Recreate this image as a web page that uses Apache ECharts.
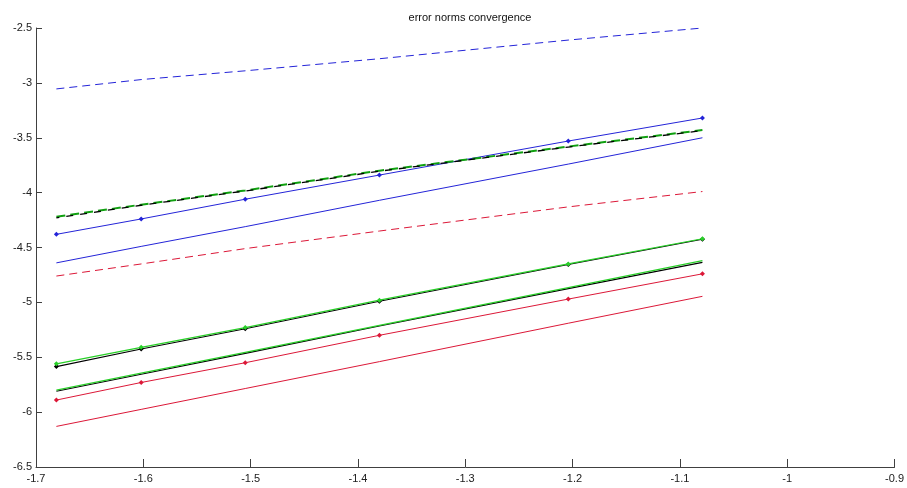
<!DOCTYPE html>
<html>
<head>
<meta charset="utf-8">
<title>error norms convergence</title>
<script src="https://cdn.jsdelivr.net/npm/echarts@6/dist/echarts.min.js"></script>
<style>
  html, body { margin: 0; padding: 0; background: #fff; }
  #chart { width: 907px; height: 488px; }
</style>
</head>
<body>
<div id="chart"></div>
<script>
// log10 of the mesh size h (h = 1/48 ... 1/12)
const logH = [-1.681, -1.602, -1.505, -1.380, -1.204, -1.079];

// log10 of the error norms
const blueDashed   = [-3.055, -2.97, -2.89, -2.78, -2.61, -2.50];
const blueMarked   = [-4.38, -4.24, -4.06, -3.84, -3.53, -3.32];
const greenDashed  = [-4.22, -4.11, -3.98, -3.80, -3.58, -3.43];
const blackDashed  = [-4.23, -4.115, -3.985, -3.805, -3.585, -3.435];
const blueSolid    = [-4.64, -4.49, -4.31, -4.07, -3.74, -3.50];
const redDashed    = [-4.76, -4.65, -4.51, -4.35, -4.13, -3.99];
const blackMarked  = [-5.585, -5.425, -5.24, -4.99, -4.655, -4.425];
const greenMarked  = [-5.56, -5.41, -5.23, -4.98, -4.65, -4.42];
const blackSolid   = [-5.81, -5.655, -5.465, -5.215, -4.875, -4.635];
const greenSolid   = [-5.80, -5.645, -5.455, -5.21, -4.865, -4.62];
const redMarked    = [-5.89, -5.73, -5.55, -5.30, -4.97, -4.74];
const redSolid     = [-6.13, -5.975, -5.785, -5.54, -5.19, -4.945];

const xTicks = { min: -1.7, max: -0.9, step: 0.1 };
const yTicks = { min: -6.5, max: -2.5, step: 0.5 };

const pairs = ys => logH.map((x, i) => [x, ys[i]]);

const BLUE = '#2424d8';
const RED = '#dc1838';
const GREEN = '#28d028';
const DKGREEN = '#10a010';
const BLACK = '#000000';

function line(data, color, opts = {}) {
  return {
    type: 'line',
    data: pairs(data),
    symbol: opts.marker ? 'diamond' : 'none',
    symbolSize: opts.marker ? 5 : 0,
    showSymbol: !!opts.marker,
    itemStyle: { color: color },
    lineStyle: {
      color: color,
      width: opts.width || 1,
      type: opts.dash || 'solid',
      dashOffset: opts.offset || 0
    },
    z: opts.z || 2,
    silent: true
  };
}

const chart = echarts.init(document.getElementById('chart'), null, { renderer: 'canvas' });

const axisCommon = {
  type: 'value',
  axisLine: { show: true, lineStyle: { color: '#404040', width: 1 } },
  axisTick: { show: true, inside: true, lineStyle: { color: '#404040' } },
  splitLine: { show: false },
  axisLabel: {
    color: '#202020',
    fontFamily: 'Liberation Sans, Arial, sans-serif',
    fontSize: 11
  }
};

chart.setOption({
  animation: false,
  backgroundColor: '#ffffff',
  title: {
    text: 'error norms convergence',
    left: 465,
    textAlign: 'center',
    top: 7,
    textStyle: {
      fontFamily: 'Liberation Sans, Arial, sans-serif',
      fontSize: 11,
      fontWeight: 'normal',
      color: '#111'
    }
  },
  grid: { left: 36, right: 10, top: 28, bottom: 21, containLabel: false },
  xAxis: Object.assign({}, axisCommon, {
    min: xTicks.min, max: xTicks.max, interval: xTicks.step,
    axisTick: Object.assign({}, axisCommon.axisTick, { length: 8 }),
    axisLabel: Object.assign({}, axisCommon.axisLabel, { margin: 6 })
  }),
  yAxis: Object.assign({}, axisCommon, {
    min: yTicks.min, max: yTicks.max, interval: yTicks.step,
    axisTick: Object.assign({}, axisCommon.axisTick, { length: 6 }),
    axisLabel: Object.assign({}, axisCommon.axisLabel, { margin: 4 })
  }),
  series: [
    line(blueDashed, BLUE, { dash: [8, 5] }),
    line(blueMarked, BLUE, { marker: true }),
    line(greenDashed, DKGREEN, { dash: [9, 5], width: 2 }),
    line(blackDashed, BLACK, { dash: [7, 7], width: 1.3, offset: 4, z: 3 }),
    line(blueSolid, BLUE),
    line(redDashed, RED, { dash: [8, 5] }),
    line(blackMarked, BLACK, { marker: true, width: 1.2 }),
    line(greenMarked, GREEN, { marker: true, width: 1.2, z: 3 }),
    line(blackSolid, BLACK, { width: 1.2 }),
    line(greenSolid, GREEN, { width: 1.2, z: 3 }),
    line(redMarked, RED, { marker: true }),
    line(redSolid, RED)
  ]
});
</script>
</body>
</html>
